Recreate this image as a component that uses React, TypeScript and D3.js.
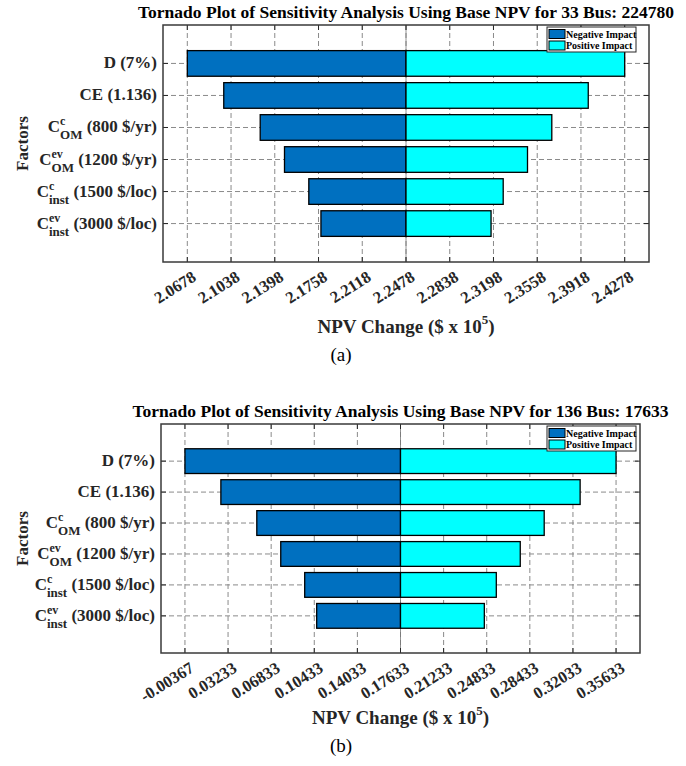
import React, { useEffect, useRef } from 'react';
import * as d3 from 'd3';

// factor labels: main letter, superscript, subscript, parameter text
const factorMain = ['D', 'CE', 'C', 'C', 'C', 'C'];
const factorSup = ['', '', 'c', 'ev', 'c', 'ev'];
const factorSub = ['', '', 'OM', 'OM', 'inst', 'inst'];
const factorParam = [' (7%)', ' (1.136)', ' (800 $/yr)', ' (1200 $/yr)', ' (1500 $/loc)', ' (3000 $/loc)'];

// 33 bus system (NPV, $ x 10^5)
const bus33Base = 2.2478;
const bus33Low = [2.0678, 2.0978, 2.1278, 2.1478, 2.1678, 2.1778];
const bus33High = [2.4278, 2.3978, 2.3678, 2.3478, 2.3278, 2.3178];
const bus33Ticks = ['2.0678', '2.1038', '2.1398', '2.1758', '2.2118', '2.2478', '2.2838', '2.3198', '2.3558', '2.3918', '2.4278'];

// 136 bus system
const bus136Base = 0.17633;
const bus136Low = [-0.00367, 0.02633, 0.05633, 0.07633, 0.09633, 0.10633];
const bus136High = [0.35633, 0.32633, 0.29633, 0.27633, 0.25633, 0.24633];
const bus136Ticks = ['-0.00367', '0.03233', '0.06833', '0.10433', '0.14033', '0.17633', '0.21233', '0.24833', '0.28433', '0.32033', '0.35633'];

const NEG = '#0070C0';
const POS = '#00FFFF';
const FONT = '"Liberation Serif", "Times New Roman", serif';

const panels = [
  {
    title: 'Tornado Plot of Sensitivity Analysis Using Base NPV for 33 Bus: 224780',
    base: bus33Base, low: bus33Low, high: bus33High, ticks: bus33Ticks, caption: '(a)',
    box: { left: 163, right: 649, top: 25, bottom: 262 }, legendInset: 13,
  },
  {
    title: 'Tornado Plot of Sensitivity Analysis Using Base NPV for 136 Bus: 17633',
    base: bus136Base, low: bus136Low, high: bus136High, ticks: bus136Ticks, caption: '(b)',
    box: { left: 161, right: 640, top: 424, bottom: 653 }, legendInset: 4,
  },
];

const App: React.FC = () => {
  const svgRef = useRef<SVGSVGElement>(null);

  useEffect(() => {
    if (!svgRef.current) return;
    const svg = d3.select(svgRef.current);
    svg.selectAll('*').remove();

    panels.forEach(p => {
      const { left, right, top, bottom } = p.box;
      const tickVals = p.ticks.map(Number);
      const x = d3.scaleLinear()
        .domain([tickVals[0] - 0.02, tickVals[tickVals.length - 1] + 0.02])
        .range([left, right]);
      const y = d3.scaleLinear().domain([-0.2, 7.2]).range([top, bottom]);
      const cats = d3.range(1, factorMain.length + 1);
      const g = svg.append('g').style('font-family', FONT);

      g.append('rect')
        .attr('x', left).attr('y', top)
        .attr('width', right - left).attr('height', bottom - top)
        .attr('fill', '#fff');

      // grid
      tickVals.forEach(v => {
        g.append('line')
          .attr('x1', x(v)).attr('x2', x(v)).attr('y1', top).attr('y2', bottom)
          .attr('stroke', '#8a8a8a').attr('stroke-width', 1).attr('stroke-dasharray', '5,3');
      });
      cats.forEach(c => {
        g.append('line')
          .attr('x1', left).attr('x2', right).attr('y1', y(c)).attr('y2', y(c))
          .attr('stroke', '#8a8a8a').attr('stroke-width', 1).attr('stroke-dasharray', '5,3');
      });

      // baseline at base value
      g.append('line')
        .attr('x1', x(p.base)).attr('x2', x(p.base)).attr('y1', top).attr('y2', bottom)
        .attr('stroke', '#777').attr('stroke-width', 0.8);

      // bars
      const barH = y(0.8) - y(0);
      cats.forEach((c, i) => {
        g.append('rect')
          .attr('x', x(p.low[i])).attr('y', y(c) - barH / 2)
          .attr('width', x(p.base) - x(p.low[i])).attr('height', barH)
          .attr('fill', NEG).attr('stroke', '#000').attr('stroke-width', 1.3);
        g.append('rect')
          .attr('x', x(p.base)).attr('y', y(c) - barH / 2)
          .attr('width', x(p.high[i]) - x(p.base)).attr('height', barH)
          .attr('fill', POS).attr('stroke', '#000').attr('stroke-width', 1.3);
      });

      // tick marks on all four sides
      tickVals.forEach(v => {
        g.append('line').attr('x1', x(v)).attr('x2', x(v)).attr('y1', bottom).attr('y2', bottom - 5)
          .attr('stroke', '#262626').attr('stroke-width', 1);
        g.append('line').attr('x1', x(v)).attr('x2', x(v)).attr('y1', top).attr('y2', top + 5)
          .attr('stroke', '#262626').attr('stroke-width', 1);
      });
      cats.forEach(c => {
        g.append('line').attr('x1', left).attr('x2', left + 5).attr('y1', y(c)).attr('y2', y(c))
          .attr('stroke', '#262626').attr('stroke-width', 1);
        g.append('line').attr('x1', right).attr('x2', right - 5).attr('y1', y(c)).attr('y2', y(c))
          .attr('stroke', '#262626').attr('stroke-width', 1);
      });

      // axes box
      g.append('rect')
        .attr('x', left).attr('y', top)
        .attr('width', right - left).attr('height', bottom - top)
        .attr('fill', 'none').attr('stroke', '#3a3a3a').attr('stroke-width', 1.5);

      // x tick labels (rotated)
      p.ticks.forEach((t, i) => {
        const tx = x(tickVals[i]) + 10;
        const ty = bottom + 18;
        g.append('text')
          .attr('transform', `translate(${tx},${ty}) rotate(-32)`)
          .attr('text-anchor', 'end')
          .attr('font-size', 16.5).attr('font-weight', 'bold').attr('fill', '#262626')
          .text(t);
      });

      // y tick labels with sup/sub
      cats.forEach((c, i) => {
        const t = g.append('text')
          .attr('x', left - 6).attr('y', y(c) + 5)
          .attr('text-anchor', 'end')
          .attr('font-size', 17).attr('font-weight', 'bold').attr('fill', '#262626');
        t.append('tspan').text(factorMain[i]);
        if (factorSup[i]) {
          const sup = t.append('tspan').attr('font-size', 12).attr('dy', -7).text(factorSup[i]);
          const wSup = (sup.node() as SVGTextContentElement).getComputedTextLength();
          const sub = t.append('tspan').attr('font-size', 13).attr('dx', -wSup).attr('dy', 14).text(factorSub[i]);
          const wSub = (sub.node() as SVGTextContentElement).getComputedTextLength();
          t.append('tspan').attr('dy', -7).attr('dx', Math.max(0, wSup - wSub)).text(factorParam[i]);
        } else {
          t.append('tspan').text(factorParam[i]);
        }
      });

      // y axis label
      g.append('text')
        .attr('transform', `translate(28,${(top + bottom) / 2}) rotate(-90)`)
        .attr('text-anchor', 'middle')
        .attr('font-size', 17).attr('font-weight', 'bold').attr('fill', '#262626')
        .text('Factors');

      // x axis label
      const xl = g.append('text')
        .attr('x', (left + right) / 2).attr('y', bottom + 71)
        .attr('text-anchor', 'middle')
        .attr('font-size', 19).attr('font-weight', 'bold').attr('fill', '#262626');
      xl.append('tspan').text('NPV Change ($ x 10');
      xl.append('tspan').attr('font-size', 13).attr('dy', -9).text('5');
      xl.append('tspan').attr('dy', 9).text(')');

      // title
      g.append('text')
        .attr('x', (left + right) / 2).attr('y', top - 7)
        .attr('text-anchor', 'middle')
        .attr('font-size', 17.5).attr('font-weight', 'bold').attr('fill', '#000')
        .text(p.title);

      // caption
      g.append('text')
        .attr('x', 341).attr('y', bottom + 99)
        .attr('text-anchor', 'middle')
        .attr('font-size', 19).attr('fill', '#000')
        .text(p.caption);

      // legend
      const lw = 89, lh = 25;
      const lx = right - p.legendInset - lw;
      const ly = top + 2;
      const lg = g.append('g');
      lg.append('rect').attr('x', lx).attr('y', ly).attr('width', lw).attr('height', lh)
        .attr('fill', '#fff').attr('stroke', '#262626').attr('stroke-width', 1);
      [['Negative Impact', NEG], ['Positive Impact', POS]].forEach(([label, color], k) => {
        lg.append('rect')
          .attr('x', lx + 2).attr('y', ly + 2.5 + k * 11.5).attr('width', 16).attr('height', 9)
          .attr('fill', color).attr('stroke', '#000').attr('stroke-width', 1);
        lg.append('text')
          .attr('x', lx + 19).attr('y', ly + 10.5 + k * 11.5)
          .attr('font-size', 10).attr('font-weight', 'bold').attr('fill', '#000')
          .text(label);
      });
    });
  }, []);

  return (
    <div style={{ position: 'absolute', left: 0, top: 0 }}>
      <svg ref={svgRef} width={686} height={766} style={{ display: 'block', background: '#fff' }} />
    </div>
  );
};

export default App;
